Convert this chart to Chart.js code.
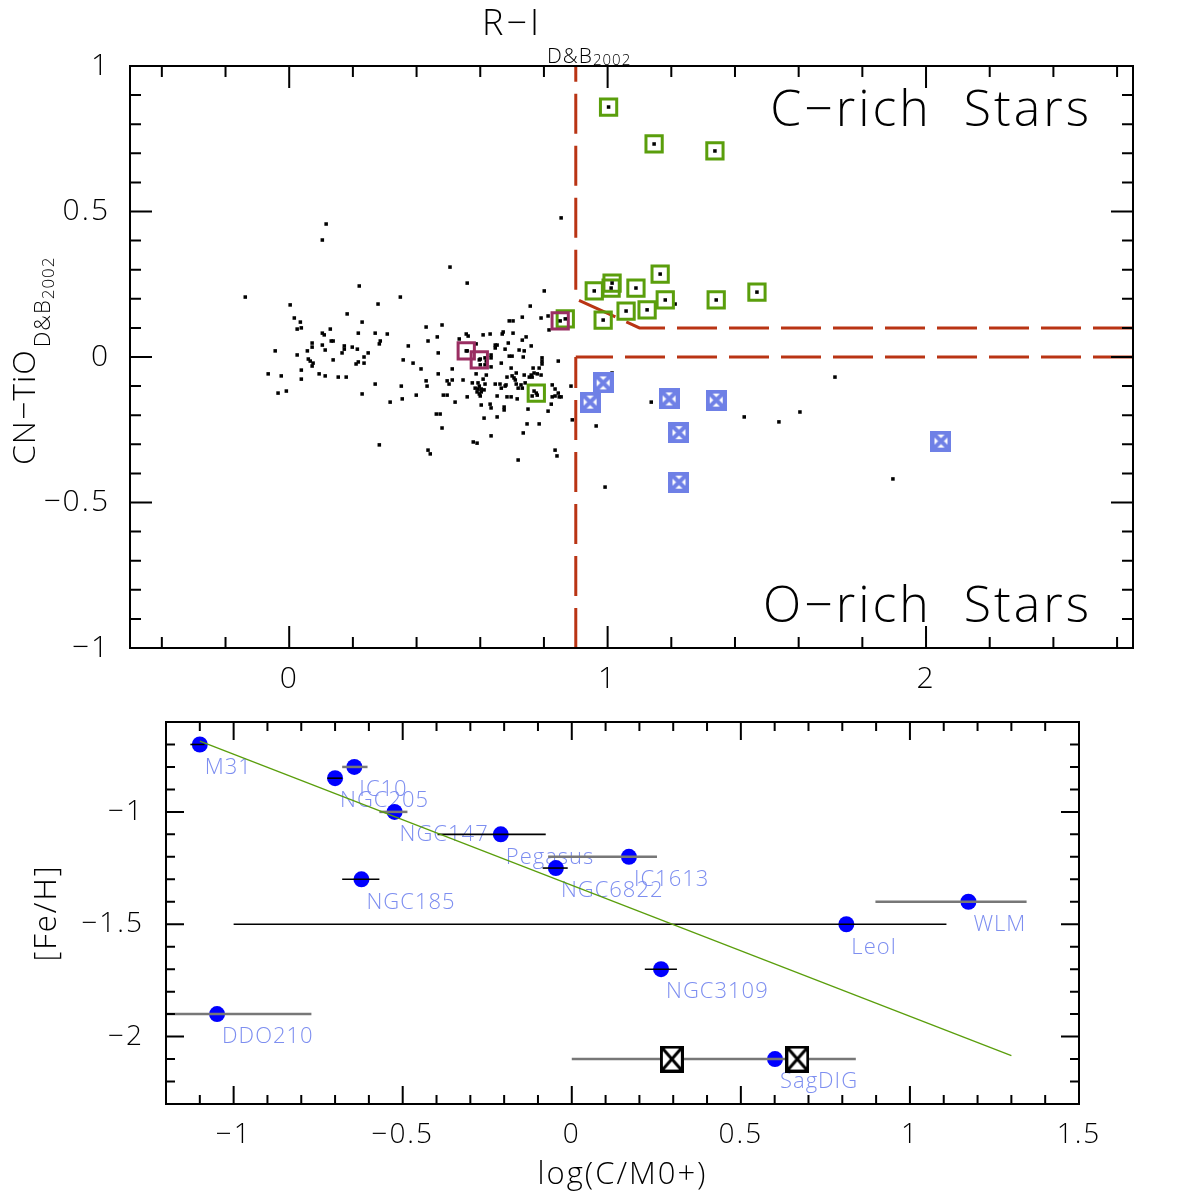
<!DOCTYPE html>
<html>
<head>
<meta charset="utf-8">
<script src="https://cdn.jsdelivr.net/npm/chart.js@4.4.1/dist/chart.umd.min.js"></script>
<style>
html, body { margin: 0; padding: 0; background: #fff; }
#wrap { position: relative; width: 1196px; height: 1196px; }
canvas { position: absolute; left: 0; }
#topChart { top: 0; width: 1196px; height: 700px; }
#botChart { top: 700px; width: 1196px; height: 496px; }
</style>
</head>
<body>
<div id="wrap">
  <canvas id="topChart" width="1196" height="700"></canvas>
  <canvas id="botChart" width="1196" height="496"></canvas>
</div>
<script>
// ---- TOP PANEL DATA (R-I vs CN-TiO) ----
const starRI = [
  -0.138, 0.116, 0.104, 0.003, 0.220, 0.349, 0.279, 0.182, 0.016, 0.035, 0.229, 0.025, 0.038, 0.129, 0.430,
  0.104, 0.110, 0.217, 0.270, 0.308, 0.132, 0.138, 0.072, 0.286, 0.283, 0.436, 0.104, 0.072, 0.173, 0.173,
  0.198, 0.214, 0.374, -0.044, 0.113, 0.166, 0.248, 0.025, 0.057, 0.235, 0.060, 0.066, 0.075, 0.072, 0.138,
  0.358, 0.389, 0.210, 0.217, 0.235, 0.414, 0.038, -0.066, 0.094, 0.113, -0.025, 0.154, 0.179, 0.038, 0.430,
  0.270, 0.433, 0.352, -0.035, -0.009, 0.229, 0.399, 0.355, 0.317, 0.283, 0.436, 0.443, 0.505, 0.480, 0.465,
  0.468, 0.512, 0.468, 0.496, 0.512, 0.502, 0.484, 0.496, 0.521, 0.462, 0.474, 0.480, 0.559, 0.801, 0.757,
  0.732, 0.691, 0.703, 0.791, 0.813, 0.816, 0.556, 0.562, 0.534, 0.609, 0.631, 0.669, 0.672, 0.703, 0.744,
  0.732, 0.587, 0.647, 0.653, 0.647, 0.688, 0.760, 0.678, 0.559, 0.722, 0.738, 0.634, 0.634, 0.691, 0.700,
  0.735, 0.794, 0.794, 0.794, 0.600, 0.615, 0.619, 0.600, 0.615, 0.845, 0.666, 0.634, 0.697, 0.785, 0.766,
  0.587, 0.713, 0.769, 0.779, 0.760, 0.763, 0.754, 0.791, 0.684, 0.700, 0.706, 0.710, 0.738, 0.619, 0.609,
  0.546, 0.575, 0.593, 0.597, 0.584, 0.593, 0.603, 0.590, 0.603, 0.597, 0.600, 0.612, 0.615, 0.647, 0.662,
  0.666, 0.678, 0.681, 0.653, 0.713, 0.728, 0.732, 0.741, 0.719, 0.684, 0.697, 0.716, 0.763, 0.769, 0.779,
  0.826, 0.835, 0.845, 0.835, 0.848, 0.854, 0.826, 0.559, 0.603, 0.631, 0.634, 0.675, 0.675, 0.750, 0.823,
  0.813, 0.612, 0.653, 0.747, 0.785, 0.735, 0.634, 0.578, 0.590, 0.835, 0.841, 0.719, 0.854, 0.885, 0.889,
  0.964, 1.212, 1.014, 0.992, 1.137, 1.429, 1.538, 1.604, 1.714, 1.896
];
const starCN = [
  0.206, 0.457, 0.402, 0.179, 0.244, 0.206, 0.182, 0.148, 0.134, 0.120, 0.120, 0.096, 0.100, 0.096, 0.103,
  0.082, 0.076, 0.082, 0.082, 0.079, 0.055, 0.055, 0.048, 0.055, 0.045, 0.055, 0.041, 0.034, 0.038, 0.027,
  0.034, 0.027, 0.038, 0.021, 0.024, 0.014, 0.014, 0.007, 0.021, 0.000, -0.007, -0.014, -0.021, -0.031, -0.010,
  -0.010, -0.021, -0.024, -0.017, -0.021, -0.041, -0.045, -0.058, -0.058, -0.065, -0.065, -0.069, -0.069, -0.076, -0.082,
  -0.093, -0.100, -0.100, -0.124, -0.117, -0.127, -0.131, -0.144, -0.155, -0.302, -0.320, -0.333, 0.309, 0.110, 0.069,
  0.014, -0.041, -0.058, -0.082, -0.079, -0.093, -0.131, -0.131, -0.155, -0.196, -0.196, -0.244, 0.254, 0.227, 0.175,
  0.137, 0.124, 0.124, 0.134, 0.141, 0.093, 0.079, 0.072, 0.062, 0.076, 0.079, 0.079, 0.086, 0.082, 0.069,
  0.058, 0.045, 0.041, 0.041, 0.031, 0.048, 0.038, 0.027, 0.021, 0.024, 0.021, 0.007, -0.003, 0.003, 0.003,
  0.000, -0.003, -0.014, -0.024, -0.007, -0.003, -0.014, -0.027, -0.027, -0.014, -0.021, -0.034, -0.038, -0.038, -0.038,
  -0.058, -0.055, -0.055, -0.058, -0.062, -0.069, -0.069, -0.062, -0.069, -0.065, -0.072, -0.079, -0.062, -0.062, -0.076,
  -0.079, -0.089, -0.089, -0.100, -0.107, -0.110, -0.110, -0.120, -0.120, -0.127, -0.134, -0.113, -0.093, -0.093, -0.093,
  -0.107, -0.100, -0.096, -0.134, -0.093, -0.096, -0.107, -0.089, -0.107, -0.137, -0.137, -0.144, -0.134, -0.117, -0.131,
  -0.096, -0.110, -0.124, -0.134, -0.137, -0.137, -0.137, -0.137, -0.165, -0.162, -0.175, -0.172, -0.182, -0.179, -0.162,
  -0.186, -0.210, -0.206, -0.230, -0.230, -0.261, -0.271, -0.292, -0.296, -0.320, -0.340, -0.354, 0.478, -0.100, -0.216,
  -0.237, 0.182, -0.055, -0.447, -0.155, -0.206, -0.223, -0.189, -0.069, -0.419
];
// carbon stars (green boxes)
const cRichRI = [1.003, 1.146, 1.337, 1.165, 0.958, 1.014, 1.011, 1.089, 1.469, 1.341, 1.181, 1.058, 1.124, 0.986, 0.867, 0.776];
const cRichCN = [0.859, 0.732, 0.708, 0.285, 0.227, 0.254, 0.237, 0.237, 0.223, 0.196, 0.196, 0.158, 0.162, 0.127, 0.131, -0.124];
// purple boxes
const midRI = [0.556, 0.597, 0.851];
const midCN = [0.021, -0.010, 0.124];
// blue crossed boxes
const oRichRI = [0.986, 0.945, 1.193, 1.341, 1.224, 1.224, 2.047];
const oRichCN = [-0.089, -0.155, -0.144, -0.148, -0.260, -0.430, -0.289];
// C/O dividing lines
const cutHighRI = [2.65, 1.1, 0.9];
const cutHighCN = [0.1, 0.1, 0.2];
const cutTopRI = [0.9, 0.9];
const cutTopCN = [0.2, 1];
const cutLowRI = [2.65, 0.9];
const cutLowCN = [0, 0];
const cutBotRI = [0.9, 0.9];
const cutBotCN = [0, -1];

const topXTicks = [0, 1, 2];
const topYTicks = [-1, -0.5, 0, 0.5, 1];

// ---- BOTTOM PANEL DATA (log C/M vs [Fe/H]) ----
const galaxies = ["M31", "IC10", "NGC205", "NGC147", "Pegasus", "NGC6822", "IC1613", "NGC185", "LeoI", "WLM", "NGC3109", "DDO210", "SagDIG"];
const logCM = [-1.10, -0.643, -0.70, -0.524, -0.21, -0.047, 0.169, -0.622, 0.812, 1.173, 0.264, -1.049, 0.601];
const feH = [-0.70, -0.80, -0.85, -1.00, -1.10, -1.25, -1.20, -1.30, -1.50, -1.40, -1.70, -1.90, -2.10];
const logCMlo = [-1.128, -0.679, -0.723, -0.569, -0.397, -0.086, -0.07, -0.679, -1.00, 0.898, 0.216, -1.30, 0.00];
const logCMhi = [-1.086, -0.604, -0.679, -0.486, -0.077, -0.012, 0.252, -0.569, 1.108, 1.345, 0.311, -0.77, 0.84];
const sagAltX = [0.296, 0.667];
const sagAltY = [-2.1, -2.1];
const fitX = [-1.1, 1.3];
const fitY = [-0.685, -2.085];

const botXTicks = [-1, -0.5, 0, 0.5, 1, 1.5];
const botYTicks = [-2, -1.5, -1];

// ---- STYLE ----
const FONT = '"Open Sans", "Liberation Sans", Arial, sans-serif';
const WEIGHT = 300;
const RED = "#b93414", GREEN = "#5a9e0c", PURPLE = "#9a2e62", BOXBLUE = "#6f80e6";
const LABEL = "#7d8ef0", GRAY = "#777777";
const grayBars = ["IC10", "NGC147", "IC1613", "WLM", "DDO210", "SagDIG"];

const pts = (xs, ys) => xs.map((v, i) => ({ x: v, y: ys[i] }));
const fmt = v => (v < 0 ? "\u2212" + String(-v) : String(v));

function crossBox(w, h, color, lw) {
    const c = document.createElement("canvas");
    c.width = w; c.height = h;
    const g = c.getContext("2d");
    g.fillStyle = "#fff";
    g.fillRect(0, 0, w, h);
    g.strokeStyle = color;
    g.lineWidth = lw;
    const d = lw / 2;
    g.strokeRect(d, d, w - lw, h - lw);
    g.beginPath();
    g.moveTo(d, d); g.lineTo(w - d, h - d);
    g.moveTo(w - d, d); g.lineTo(d, h - d);
    g.stroke();
    return c;
}

function drawParts(ctx, x, y, parts) {
    let cx = x;
    parts.forEach(p => {
        ctx.font = `${WEIGHT} ${p.size}px ${FONT}`;
        ctx.letterSpacing = (p.ls || 1) + "px";
        ctx.fillText(p.t, cx, y + (p.dy || 0));
        cx += ctx.measureText(p.t).width + (p.gap || 0);
    });
}

function spacing(px) {
    return {
        id: "spacing",
        beforeLayout(chart) { chart.ctx.letterSpacing = px; },
        beforeDraw(chart) { chart.ctx.letterSpacing = px; }
    };
}

// frame + inward ticks on all four sides
function boxTicks(o) {
    const major = (v, step) => Math.abs(v / step - Math.round(v / step)) < 1e-6;
    const each = (min, max, step, fn) => {
        for (let k = Math.ceil(min / step - 1e-6); k * step <= max + 1e-6; k++) fn(k * step);
    };
    return {
        id: "boxTicks",
        afterDraw(chart) {
            const { ctx, chartArea: a, scales: { x, y } } = chart;
            ctx.save();
            ctx.strokeStyle = "#000";
            ctx.lineWidth = 2;
            ctx.beginPath();
            each(x.min, x.max, o.xStep, v => {
                const len = major(v, o.xMajor) ? o.big : o.small;
                const px = x.getPixelForValue(v);
                ctx.moveTo(px, a.bottom); ctx.lineTo(px, a.bottom - len);
                ctx.moveTo(px, a.top); ctx.lineTo(px, a.top + len);
            });
            each(y.min, y.max, o.yStep, v => {
                const len = major(v, o.yMajor) ? o.big : o.small;
                const py = y.getPixelForValue(v);
                ctx.moveTo(a.left, py); ctx.lineTo(a.left + len, py);
                ctx.moveTo(a.right, py); ctx.lineTo(a.right - len, py);
            });
            ctx.stroke();
            ctx.strokeRect(a.left, a.top, a.right - a.left, a.bottom - a.top);
            ctx.restore();
        }
    };
}

// fixed-size axis; label overhang must not push the plot area
function scaleOpts(min, max, list, size, pad, fsize) {
    return {
        type: "linear", min, max,
        grid: { display: false, drawTicks: false },
        border: { display: false },
        ticks: { font: { family: FONT, size: fsize, weight: WEIGHT }, color: "#000", padding: pad, callback: v => fmt(v) },
        afterBuildTicks: s => { s.ticks = list.map(v => ({ value: v })); },
        afterFit: s => {
            if (s.isHorizontal()) s.height = size; else s.width = size;
            s.paddingTop = 0; s.paddingBottom = 0; s.paddingLeft = 0; s.paddingRight = 0;
        }
    };
}

const baseOpts = {
    responsive: false,
    animation: false,
    devicePixelRatio: 1,
    events: [],
    plugins: { legend: { display: false }, tooltip: { enabled: false } }
};

// ---- TOP CHART ----
const topText = {
    id: "topText",
    afterDraw(chart) {
        const ctx = chart.ctx;
        ctx.save();
        ctx.fillStyle = "#000";
        ctx.textBaseline = "alphabetic";
        // main symbol right-aligned against its subscript
        ctx.font = `${WEIGHT} 36px ${FONT}`;
        ctx.letterSpacing = "3px";
        ctx.textAlign = "right";
        ctx.fillText("R\u2212I", 542, 35);
        ctx.textAlign = "left";
        drawParts(ctx, 547, 35, [
            { t: "D&B", size: 21, dy: 28 },
            { t: "2002", size: 15, dy: 30 }
        ]);
        ctx.translate(35, 465);
        ctx.rotate(-Math.PI / 2);
        drawParts(ctx, 0, 0, [
            { t: "CN\u2212TiO", size: 32, ls: 1, gap: 2 },
            { t: "D&B", size: 22, dy: 15 },
            { t: "2002", size: 17, dy: 19 }
        ]);
        ctx.restore();

        ctx.save();
        ctx.fillStyle = "#000";
        ctx.letterSpacing = "3px";
        ctx.font = `${WEIGHT} 50px ${FONT}`;
        ctx.textAlign = "right";
        ctx.textBaseline = "alphabetic";
        ctx.fillText("C\u2212rich  Stars", 1092, 126);
        ctx.fillText("O\u2212rich  Stars", 1092, 622);
        ctx.restore();
    }
};

const blueBox = crossBox(21, 21, BOXBLUE, 4);

new Chart(document.getElementById("topChart"), {
    type: "scatter",
    data: {
        datasets: [
            { type: "line", data: pts(cutHighRI, cutHighCN), borderColor: RED, borderWidth: 3, borderDash: [40, 12], pointRadius: 0, showLine: true, fill: false, order: 9 },
            { type: "line", data: pts(cutTopRI, cutTopCN), borderColor: RED, borderWidth: 3, borderDash: [40, 12], borderDashOffset: 43, pointRadius: 0, showLine: true, fill: false, order: 9 },
            { type: "line", data: pts(cutLowRI, cutLowCN), borderColor: RED, borderWidth: 3, borderDash: [40, 12], pointRadius: 0, showLine: true, fill: false, order: 9 },
            { type: "line", data: pts(cutBotRI, cutBotCN), borderColor: RED, borderWidth: 3, borderDash: [40, 12], borderDashOffset: 9, pointRadius: 0, showLine: true, fill: false, order: 9 },
            { data: pts(starRI, starCN), pointStyle: "rect", pointRadius: 2.5, backgroundColor: "#000", borderWidth: 0, order: 5 },
            { data: pts(cRichRI, cRichCN), pointStyle: "rect", pointRadius: 11.5, borderColor: GREEN, borderWidth: 3, backgroundColor: "rgba(0,0,0,0)", order: 4 },
            { data: pts(midRI, midCN), pointStyle: "rect", pointRadius: 11.5, borderColor: PURPLE, borderWidth: 3, backgroundColor: "rgba(0,0,0,0)", order: 3 },
            { data: pts(cRichRI.concat(midRI), cRichCN.concat(midCN)), pointStyle: "rect", pointRadius: 2.5, backgroundColor: "#000", borderWidth: 0, order: 2 },
            { data: pts(oRichRI, oRichCN), pointStyle: blueBox, order: 1 }
        ]
    },
    options: Object.assign({}, baseOpts, {
        layout: { padding: { left: 0, top: 66, right: 63, bottom: 0 } },
        scales: {
            x: scaleOpts(-0.5, 2.65, topXTicks, 52, 13, 30),
            y: scaleOpts(-1, 1, topYTicks, 130, 20, 30)
        }
    }),
    plugins: [spacing("2px"), boxTicks({ xStep: 0.2, xMajor: 1, yStep: 0.1, yMajor: 0.5, big: 22, small: 11 }), topText]
});

// ---- BOTTOM CHART ----
const botText = {
    id: "botText",
    beforeDatasetsDraw(chart) {
        const { ctx, scales: { x, y } } = chart;
        ctx.save();
        ctx.fillStyle = LABEL;
        ctx.letterSpacing = "1px";
        ctx.font = `${WEIGHT} 22px ${FONT}`;
        ctx.textAlign = "left";
        ctx.textBaseline = "middle";
        galaxies.forEach((g, i) => {
            ctx.fillText(g, x.getPixelForValue(logCM[i]) + 5, y.getPixelForValue(feH[i]) + 23);
        });
        ctx.restore();
    },
    afterDatasetDraw(chart, args) {
        if (args.index !== 0) return;
        const { ctx, chartArea: a, scales: { x, y } } = chart;
        ctx.save();
        ctx.beginPath();
        ctx.rect(a.left, a.top, a.right - a.left, a.bottom - a.top);
        ctx.clip();
        galaxies.forEach((g, i) => {
            const gray = grayBars.includes(g);
            ctx.strokeStyle = gray ? GRAY : "#000";
            ctx.lineWidth = gray ? 2.5 : 1.6;
            const py = y.getPixelForValue(feH[i]);
            ctx.beginPath();
            ctx.moveTo(x.getPixelForValue(logCMlo[i]), py);
            ctx.lineTo(x.getPixelForValue(logCMhi[i]), py);
            ctx.stroke();
        });
        ctx.restore();
    },
    afterDraw(chart) {
        const { ctx, chartArea: a } = chart;
        ctx.save();
        ctx.fillStyle = "#000";
        ctx.letterSpacing = "2px";
        ctx.font = `${WEIGHT} 31px ${FONT}`;
        ctx.textAlign = "center";
        ctx.textBaseline = "alphabetic";
        ctx.fillText("log(C/M0+)", (a.left + a.right) / 2, 484);
        ctx.translate(56, (a.top + a.bottom) / 2);
        ctx.rotate(-Math.PI / 2);
        ctx.fillText("[Fe/H]", 0, 0);
        ctx.restore();
    }
};

const blackBox = crossBox(24, 27, "#000", 3);

new Chart(document.getElementById("botChart"), {
    type: "scatter",
    data: {
        datasets: [
            { data: pts(logCM, feH), pointStyle: "circle", pointRadius: 8, backgroundColor: "#0000ff", borderWidth: 0, order: 3 },
            { type: "line", data: pts(fitX, fitY), borderColor: GREEN, borderWidth: 1.3, pointRadius: 0, showLine: true, fill: false, order: 2 },
            { data: pts(sagAltX, sagAltY), pointStyle: blackBox, order: 1 }
        ]
    },
    options: Object.assign({}, baseOpts, {
        layout: { padding: { left: 0, top: 22, right: 117, bottom: 0 } },
        scales: {
            x: scaleOpts(-1.2, 1.5, botXTicks, 92, 14, 28),
            y: scaleOpts(-2.3, -0.6, botYTicks, 166, 22, 28)
        }
    }),
    plugins: [spacing("2px"), boxTicks({ xStep: 0.1, xMajor: 0.5, yStep: 0.1, yMajor: 0.5, big: 18, small: 9 }), botText]
});
</script>
</body>
</html>
